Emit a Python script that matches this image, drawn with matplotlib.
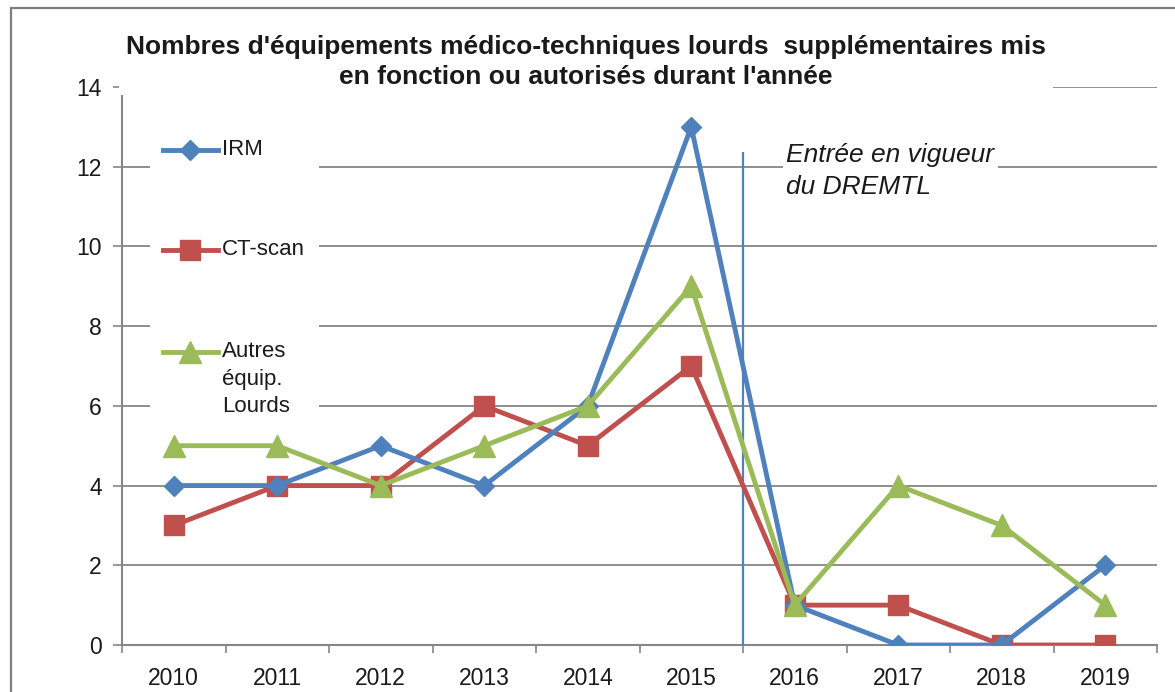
import matplotlib
matplotlib.use("Agg")
import matplotlib.pyplot as plt
from matplotlib import font_manager
from matplotlib.patches import Rectangle
from matplotlib.lines import Line2D

# ---------------- data ----------------
years = ["2010", "2011", "2012", "2013", "2014", "2015", "2016", "2017", "2018", "2019"]
irm = [4, 4, 5, 4, 6, 13, 1, 0, 0, 2]
ct_scan = [3, 4, 4, 6, 5, 7, 1, 1, 0, 0]
autres = [5, 5, 4, 5, 6, 9, 1, 4, 3, 1]
series_labels = ["IRM", "CT-scan", "Autres\néquip.\nLourds"]
y_ticks = [0, 2, 4, 6, 8, 10, 12, 14]
title = ("Nombres d'équipements médico-techniques lourds  supplémentaires mis\n"
         "en fonction ou autorisés durant l'année")
annotation = "Entrée en vigueur\ndu DREMTL"
law_position = 5.5  # between 2015 and 2016
law_line_top = 12.37

# ---------------- fonts ----------------
names = {f.name for f in font_manager.fontManager.ttflist}
if "Liberation Sans Narrow" in names:
    FAM = ["Liberation Sans Narrow", "DejaVu Sans"]
    narrow = True
else:
    FAM = ["Liberation Sans", "DejaVu Sans"]
    narrow = False
plt.rcParams["font.family"] = FAM

BLUE = "#4F81BD"
RED = "#C0504D"
GREEN = "#9BBB59"
GRID = "#868686"
TXT = "#1a1a1a"

W, H = 1175, 692
fig = plt.figure(figsize=(W / 100, H / 100), dpi=100)
ax = fig.add_axes([122 / W, (H - 645) / H, (1157 - 122) / W, (645 - 87) / H])

x = list(range(len(years)))
ax.set_xlim(-0.5, len(years) - 0.5)
ax.set_ylim(0, 14)

# grid
ax.set_axisbelow(True)
ax.set_yticks(y_ticks)
ax.yaxis.grid(True, color=GRID, lw=1.3)
ax.xaxis.grid(False)

# spines
for s in ["top", "right"]:
    ax.spines[s].set_visible(False)
for s in ["left", "bottom"]:
    ax.spines[s].set_color(GRID)
    ax.spines[s].set_linewidth(1.5)

fs_tick = 18.5 if narrow else 16.5
ax.set_xticks(x)
ax.set_xticklabels(years)
ax.set_xticks([i - 0.5 for i in range(len(years) + 1)], minor=True)
ax.tick_params(axis="x", which="major", length=0, pad=16, labelsize=fs_tick, labelcolor=TXT)
ax.tick_params(axis="x", which="minor", length=6, width=1.2, color=GRID, direction="out")
ax.tick_params(axis="y", which="major", length=6.5, width=1.2, color=GRID, pad=8,
               labelsize=fs_tick, labelcolor=TXT)

# series
lw = 3.5
ax.plot(x, irm, color=BLUE, lw=lw, marker="D", ms=10, mec=BLUE, mfc=BLUE, zorder=5)
ax.plot(x, ct_scan, color=RED, lw=lw, marker="s", ms=14.5, mec=RED, mfc=RED, zorder=4)
ax.plot(x, autres, color=GREEN, lw=lw, marker="^", ms=16, mec=GREEN, mfc=GREEN, zorder=6)

# vertical law line
ax.vlines(law_position, 0, law_line_top, color=BLUE, lw=1.6, zorder=3)

# annotation
fs_ann = 22 if narrow else 19
ax.text(5.92, 12.6, annotation, style="italic", fontsize=fs_ann, color=TXT,
        ha="left", va="top", linespacing=1.45, zorder=7,
        bbox=dict(boxstyle="square,pad=0.15", fc="white", ec="none"))

# manual legend (handles aligned with first line of label)
ax.add_patch(Rectangle((0.027, 0.40), 0.163, 0.53, transform=ax.transAxes,
                       fc="white", ec="none", zorder=1))
fs_leg = 18.5 if narrow else 16
leg_y = [0.887, 0.708, 0.525]
styles = [(BLUE, "D", 10), (RED, "s", 14.5), (GREEN, "^", 16)]
for (c, m, ms), lab, yy in zip(styles, series_labels, leg_y):
    ax.add_line(Line2D([0.0396, 0.0928], [yy, yy], transform=ax.transAxes, color=c, lw=lw,
                       zorder=8, clip_on=False))
    ax.add_line(Line2D([0.066], [yy], transform=ax.transAxes, color=c, marker=m, ms=ms,
                       mec=c, mfc=c, zorder=8, clip_on=False))
    ax.text(0.0966, yy + 0.019, lab, transform=ax.transAxes, fontsize=fs_leg, color=TXT,
            ha="left", va="top", linespacing=1.4, zorder=8)

# title with white box (hides grid line at 14 and top of spine)
fs_title = 20 if narrow else 19
fig.text(586 / W, 1 - 62 / H, title, ha="center", va="center", fontsize=fs_title,
         fontweight="bold", color=TXT, linespacing=1.3, zorder=10,
         bbox=dict(boxstyle="square,pad=0.25", fc="white", ec="none"))

# outer chart border (right and bottom lie outside the picture)
fig.add_artist(Rectangle((11 / W, -0.05), 1.1, (1 - 8 / H) + 0.05, transform=fig.transFigure,
                         fill=False, ec="#7f7f7f", lw=1.6, clip_on=False))

fig.savefig("out.png", dpi=100)
